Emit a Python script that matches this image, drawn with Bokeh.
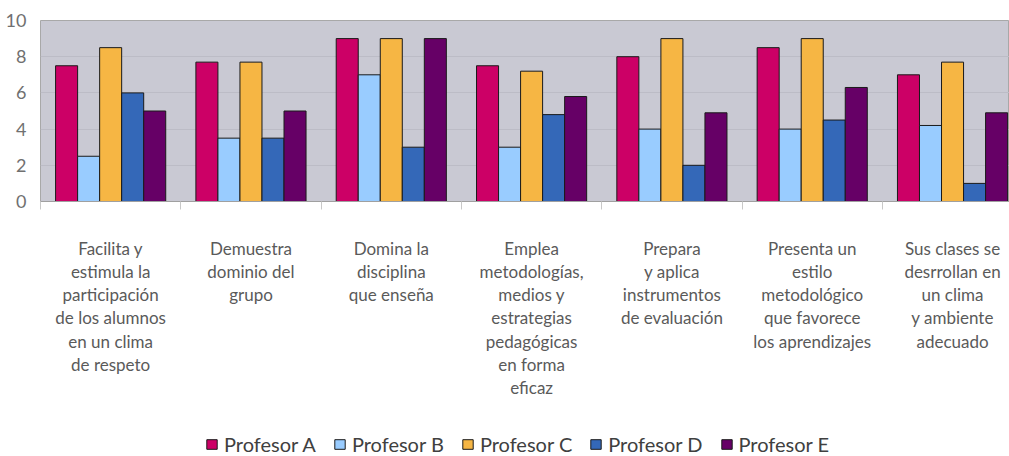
from bokeh.plotting import figure
from bokeh.models import Range1d, FixedTicker, Legend, LegendItem
from bokeh.layouts import column
from bokeh.embed import file_html
from bokeh.resources import INLINE

categories = [
    ["Facilita y", "estimula la", "participación", "de los alumnos", "en un clima", "de respeto"],
    ["Demuestra", "dominio del", "grupo"],
    ["Domina la", "disciplina", "que enseña"],
    ["Emplea", "metodologías,", "medios y", "estrategias", "pedagógicas", "en forma", "eficaz"],
    ["Prepara", "y aplica", "instrumentos", "de evaluación"],
    ["Presenta un", "estilo", "metodológico", "que favorece", "los aprendizajes"],
    ["Sus clases se", "desrrollan en", "un clima", "y ambiente", "adecuado"],
]
series_names = ["Profesor A", "Profesor B", "Profesor C", "Profesor D", "Profesor E"]
profesor_a = [7.5, 7.7, 9.0, 7.5, 8.0, 8.5, 7.0]
profesor_b = [2.5, 3.5, 7.0, 3.0, 4.0, 4.0, 4.2]
profesor_c = [8.5, 7.7, 9.0, 7.2, 9.0, 9.0, 7.7]
profesor_d = [6.0, 3.5, 3.0, 4.8, 2.0, 4.5, 1.0]
profesor_e = [5.0, 5.0, 9.0, 5.8, 4.9, 6.3, 4.9]
y_ticks = [0, 2, 4, 6, 8, 10]

series_values = [profesor_a, profesor_b, profesor_c, profesor_d, profesor_e]
colors = ["#cc0066", "#99ccff", "#f6b644", "#3468b8", "#660066"]
line_col = "#1a1a1a"

FONT = "Lato"
W, H1, H2 = 1009, 420, 36
p = figure(width=W, height=H1, output_backend="svg", toolbar_location=None,
           x_range=Range1d(0, 6.906), y_range=Range1d(0, 10),
           min_border_left=40, min_border_right=0, min_border_top=20,
           min_border_bottom=H1 - 20 - 181)
p.background_fill_color = "#c9c9d3"
p.border_fill_color = "white"
p.outline_line_color = "#a8a8a8"
p.xgrid.grid_line_color = None
p.ygrid.grid_line_color = "#bcbcc6"
p.ygrid.ticker = FixedTicker(ticks=y_ticks)

bw = 0.157
centers = [i + 0.5 for i in range(len(categories))]
for k, (vals, col) in enumerate(zip(series_values, colors)):
    xs = [c + (k - 2) * bw for c in centers]
    p.vbar(x=xs, top=vals, bottom=0, width=bw, fill_color=col,
           line_color=line_col, line_width=1)

# x axis: labels at category centres, small separator ticks at boundaries
p.xaxis.ticker = FixedTicker(ticks=centers, minor_ticks=list(range(len(categories) + 1)))
p.xaxis.major_label_overrides = {c: "\n".join(lines) for c, lines in zip(centers, categories)}
p.xaxis.major_label_text_font = FONT
p.xaxis.major_label_text_font_size = "17px"
p.xaxis.major_label_text_color = "#5a5a5a"
p.xaxis.major_label_text_line_height = 1.11
p.xaxis.major_label_standoff = 28
p.xaxis.axis_line_color = "#a0a0a0"
p.xaxis.major_tick_line_color = None
p.xaxis.minor_tick_line_color = "#c8c8c8"
p.xaxis.minor_tick_in = 0
p.xaxis.minor_tick_out = 8

p.yaxis.ticker = FixedTicker(ticks=y_ticks)
p.yaxis.axis_line_color = None
p.yaxis.major_tick_line_color = None
p.yaxis.minor_tick_line_color = None
p.yaxis.major_label_text_font = FONT
p.yaxis.major_label_text_font_size = "18px"
p.yaxis.major_label_text_color = "#707070"
p.yaxis.major_label_standoff = 8

# legend strip (hidden proxy renderers carry the same series, only their swatches show)
lg = figure(width=W, height=H2, output_backend="svg", toolbar_location=None,
            x_range=Range1d(0, 1), y_range=Range1d(0, 1),
            x_axis_type=None, y_axis_type=None, min_border=0)
lg.outline_line_color = None
lg.background_fill_color = "white"
lg.grid.grid_line_color = None
items = []
for k, (name, vals, col) in enumerate(zip(series_names, series_values, colors)):
    r = lg.vbar(x=[c + (k - 2) * bw for c in centers], top=vals, width=bw,
                fill_color=col, line_color=line_col, line_width=1, visible=False)
    items.append(LegendItem(label=name, renderers=[r]))
legend = Legend(items=items, orientation="horizontal", location=(165, 0),
                glyph_width=13, glyph_height=12, label_standoff=6, spacing=17,
                padding=0, margin=0, border_line_color=None, label_height=12,
                background_fill_alpha=0, inactive_fill_alpha=0,
                label_text_font=FONT,
                label_text_font_size="20px", label_text_color="#404040")
lg.add_layout(legend, "center")

open("out.html", "w").write(file_html(column(p, lg, spacing=0), INLINE))
